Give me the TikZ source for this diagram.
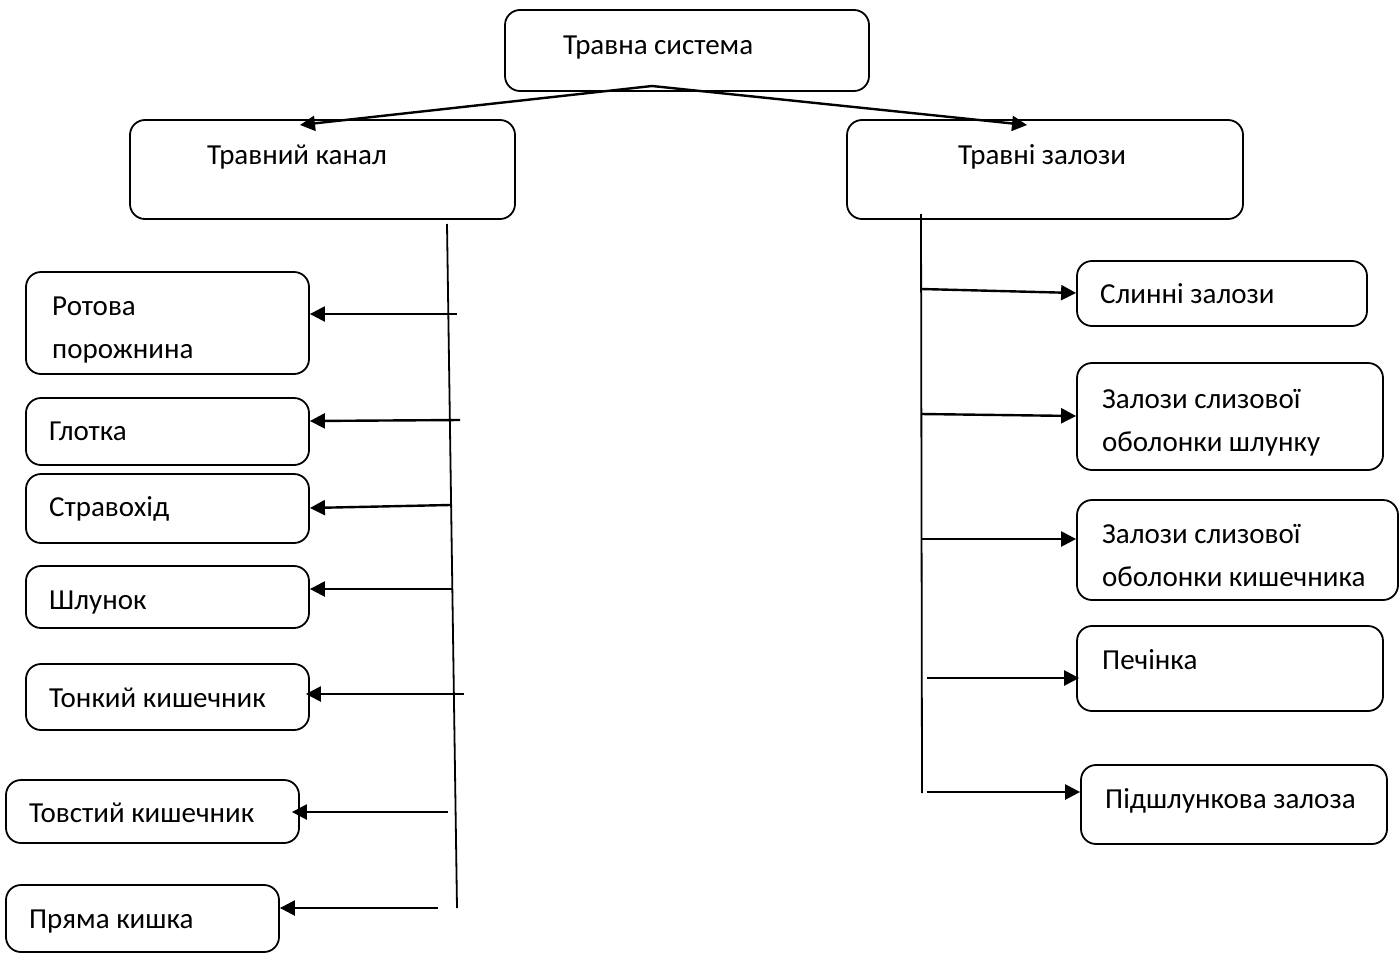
\documentclass[tikz,border=0pt]{standalone}
\usepackage{fontspec}
\setmainfont{Carlito}
\usetikzlibrary{arrows.meta}
\tikzset{
  box/.style={draw, line width=1.8pt, rounded corners=15pt, inner sep=0pt},
  txt/.style={anchor=base west, inner sep=0pt, font=\fontsize{29}{43}\selectfont, align=left},
  arr/.style={line width=2.4pt, -{Triangle[length=15pt,width=15pt]}},
  trunk/.style={line width=1.8pt}
}
\newcommand{\bx}[5]{\node[box, minimum width=#3-#1, minimum height=#4-#2] (#5) at ({(#1+#3)/2},{(#2+#4)/2}) {};}
\begin{document}
\begin{tikzpicture}[x=1pt,y=-1pt]
\useasboundingbox (0,0) rectangle (1399,953);
% boxes
\bx{505}{10}{869}{91}{sys}
\bx{130}{120}{515}{219}{kanal}
\bx{847}{120}{1243}{219}{zal}
\bx{26}{272}{309}{374}{l1}
\bx{26}{398}{309}{465}{l2}
\bx{26}{474}{309}{543}{l3}
\bx{26}{566}{309}{628}{l4}
\bx{26}{664}{309}{730}{l5}
\bx{6}{780}{299}{843}{l6}
\bx{6}{885}{279}{952}{l7}
\bx{1077}{261}{1367}{326}{r1}
\bx{1077}{363}{1383}{470}{r2}
\bx{1077}{500}{1398}{600}{r3}
\bx{1077}{626}{1383}{711}{r4}
\bx{1081}{765}{1387}{844}{r5}
% texts
\node[txt] (tsys) at (563,54) {Травна система};
\node[txt] (tkanal) at (207,164) {Травний канал};
\node[txt] (tzal) at (958,164) {Травні залози};
\node[txt] (tl1) at (52,358) {Ротова\\порожнина};
\node[txt] (tl2) at (49,440) {Глотка};
\node[txt] (tl3) at (49,516) {Стравохід};
\node[txt] (tl4) at (49,609) {Шлунок};
\node[txt] (tl5) at (49,707) {Тонкий кишечник};
\node[txt] (tl6) at (29,822) {Товстий кишечник};
\node[txt] (tl7) at (29,928) {Пряма кишка};
\node[txt] (tr1) at (1100,303) {Слинні залози};
\node[txt] (tr2) at (1102,451) {Залози слизової\\оболонки шлунку};
\node[txt] (tr3) at (1102,586) {Залози слизової\\оболонки кишечника};
\node[txt] (tr4) at (1102,669) {Печінка};
\node[txt] (tr5) at (1105,808) {Підшлункова залоза};
% top arrows
\coordinate (apex) at (652,86);
\coordinate (kt) at (300,125);
\coordinate (zt) at (1027,125);
\draw[arr] (apex) -- (kt);
\draw[arr] (apex) -- (zt);
% trunks
\coordinate (lt1) at (447,224);
\coordinate (lt2) at (457,908);
\coordinate (rt1) at (921,214);
\coordinate (rt2) at (922,793);
\draw[trunk] (lt1) -- (lt2);
\draw[trunk] (rt1) -- (rt2);
% left branches
\coordinate (a1) at (457,314);
\coordinate (a2) at (460,420);
\coordinate (a3) at (450,505);
\coordinate (a4) at (452,589);
\coordinate (a5) at (464,694);
\coordinate (a6) at (448,812);
\coordinate (a7) at (438,908);
\draw[arr] (a1) -- (l1.east |- a1);
\draw[arr] (a2) -- ([yshift=-1pt]l2.east |- a2);
\draw[arr] (a3) -- ([yshift=-3pt]l3.east |- a3);
\draw[arr] (a4) -- (l4.east |- a4);
\draw[arr] (a5) -- ([xshift=-4pt]l5.east |- a5);
\draw[arr] (a6) -- ([xshift=-8pt]l6.east |- a6);
\draw[arr] (a7) -- (l7.east |- a7);
% right branches
\coordinate (b1) at (921,289);
\coordinate (b2) at (921,414);
\coordinate (b3) at (921,539);
\coordinate (b4) at (927,678);
\coordinate (b5) at (927,792);
\draw[arr] (b1) -- ([yshift=-4pt]r1.west |- b1);
\draw[arr] (b2) -- ([yshift=-2pt]r2.west |- b2);
\draw[arr] (b3) -- (r3.west |- b3);
\draw[arr] (b4) -- ([xshift=3pt]r4.west |- b4);
\draw[arr] (b5) -- (r5.west |- b5);
\end{tikzpicture}
\end{document}
